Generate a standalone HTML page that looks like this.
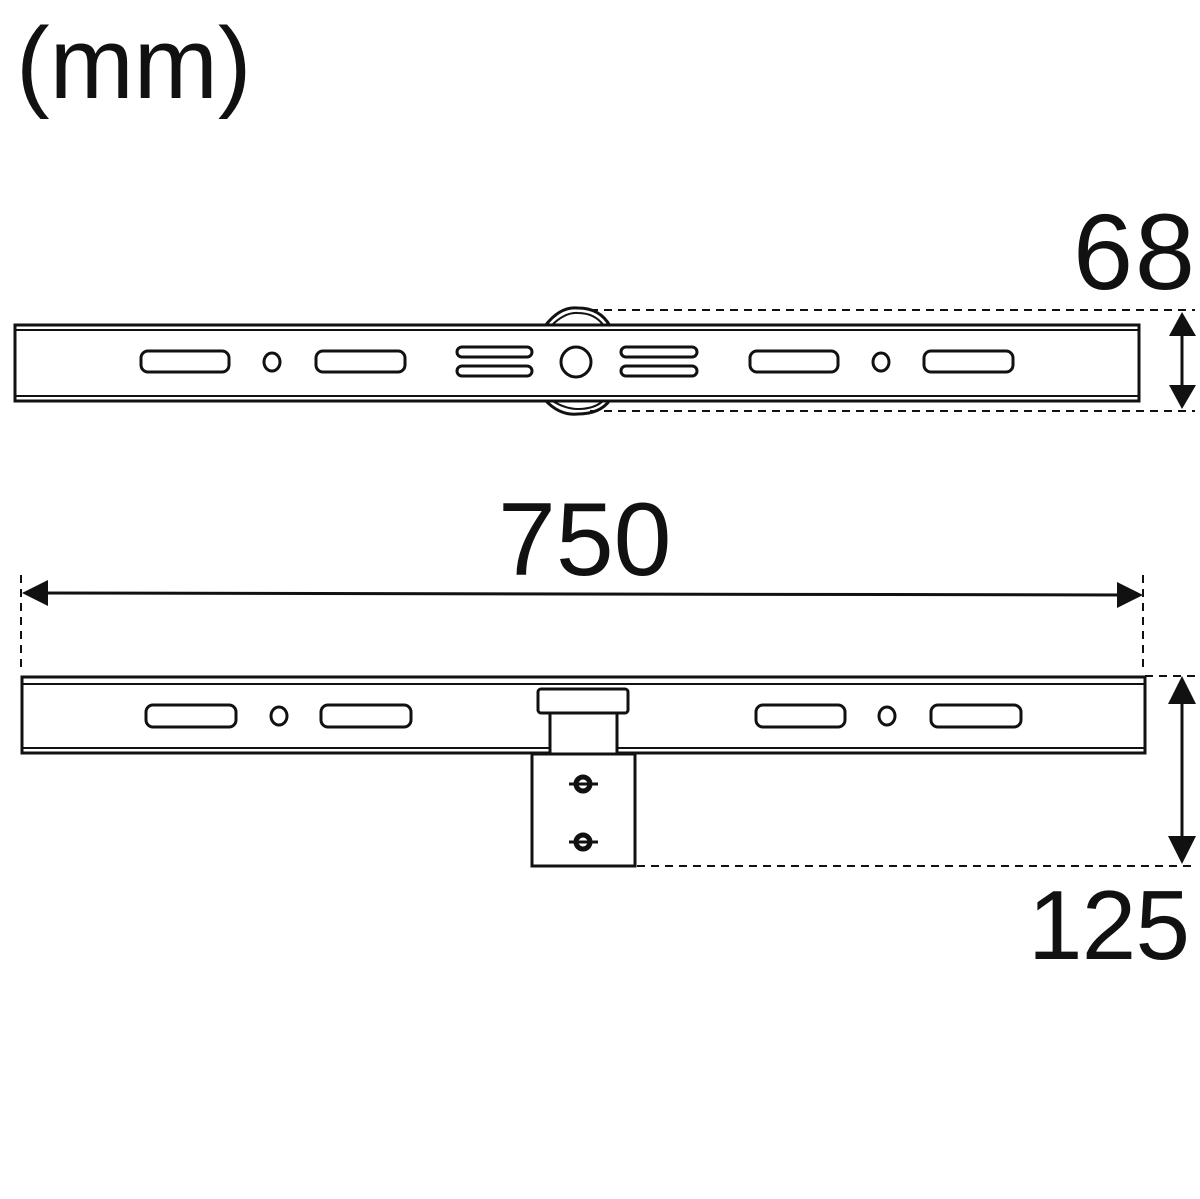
<!DOCTYPE html>
<html><head><style>
html,body{margin:0;padding:0;background:#fff;}
svg{display:block}
text{font-family:"Liberation Sans",sans-serif;fill:#111;}
</style></head><body>
<svg width="1200" height="1199" viewBox="0 0 1200 1199" xmlns="http://www.w3.org/2000/svg">
<text x="16" y="98" font-size="101">(mm)</text>
<text x="1073" y="289" font-size="108" textLength="122">68</text>
<text x="498" y="575" font-size="104">750</text>
<text x="1028" y="959" font-size="98" textLength="162">125</text>

<g fill="none" stroke="#111" stroke-width="3">
<path d="M545 326 Q560 306 578 308 Q600 308 610 326" />
<path d="M551 326 Q565 312 578 313 Q595 313 604 326" stroke-width="2"/>
<path d="M545 400 Q560 416 578 414 Q600 414 610 400" />
<path d="M551 400 Q565 409 578 409 Q595 409 604 400" stroke-width="2"/>
<rect x="15" y="325" width="1124" height="76" fill="#fff"/>
<line x1="15" y1="330" x2="1139" y2="330" stroke-width="2"/>
<line x1="15" y1="396" x2="1139" y2="396" stroke-width="2"/>
<rect x="141" y="351" width="88" height="21" rx="7"/>
<ellipse cx="272" cy="362" rx="8" ry="9"/>
<rect x="316" y="351" width="89" height="21" rx="7"/>
<rect x="457" y="347" width="75" height="10" rx="5"/>
<rect x="457" y="366" width="75" height="10" rx="5"/>
<circle cx="576" cy="362" r="15"/>
<rect x="621" y="347" width="76" height="10" rx="5"/>
<rect x="621" y="366" width="76" height="10" rx="5"/>
<rect x="750" y="351" width="88" height="21" rx="7"/>
<ellipse cx="881" cy="362" rx="8" ry="9"/>
<rect x="924" y="351" width="89" height="21" rx="7"/>

<path d="M22 677 H1145 V753 H617 V713 H550 V753 H22 Z"/>
<line x1="22" y1="684" x2="1145" y2="684" stroke-width="2"/>
<line x1="22" y1="748" x2="550" y2="748" stroke-width="2"/>
<line x1="617" y1="748" x2="1145" y2="748" stroke-width="2"/>
<rect x="538" y="689" width="90" height="24" rx="3" fill="#fff"/>
<rect x="532" y="754" width="103" height="112"/>
<rect x="146" y="705" width="90" height="22" rx="7"/>
<ellipse cx="279" cy="716" rx="8" ry="9"/>
<rect x="321" y="705" width="90" height="22" rx="7"/>
<rect x="756" y="705" width="89" height="22" rx="7"/>
<ellipse cx="887" cy="716" rx="8" ry="9"/>
<rect x="931" y="705" width="90" height="22" rx="7"/>
<circle cx="583" cy="784" r="7" stroke-width="5"/>
<line x1="569" y1="784" x2="598" y2="784" stroke-width="3"/>
<circle cx="583" cy="842" r="7" stroke-width="5"/>
<line x1="569" y1="842" x2="598" y2="842" stroke-width="3"/>
</g>

<g stroke="#111" stroke-width="2" stroke-dasharray="8,6" fill="none">
<line x1="590" y1="310" x2="1195" y2="310"/>
<line x1="590" y1="411" x2="1195" y2="411"/>
<line x1="1145" y1="676" x2="1195" y2="676"/>
<line x1="637" y1="866" x2="1195" y2="866"/>
<line x1="21" y1="575" x2="21" y2="668"/>
<line x1="1143" y1="575" x2="1143" y2="668"/>
</g>

<g stroke="#111" stroke-width="3" fill="#111">
<line x1="1182" y1="320" x2="1182" y2="400"/>
<path d="M1182 312 L1169 336 L1196 336 Z" stroke="none"/>
<path d="M1182 409 L1169 385 L1196 385 Z" stroke="none"/>
<line x1="1182" y1="690" x2="1182" y2="850"/>
<path d="M1182 676 L1168 704 L1196 704 Z" stroke="none"/>
<path d="M1182 864 L1168 836 L1196 836 Z" stroke="none"/>
<line x1="35" y1="593" x2="1130" y2="595"/>
<path d="M22 593 L48 580 L48 606 Z" stroke="none"/>
<path d="M1143 595 L1117 582 L1117 608 Z" stroke="none"/>
</g>
</svg>
</body></html>
